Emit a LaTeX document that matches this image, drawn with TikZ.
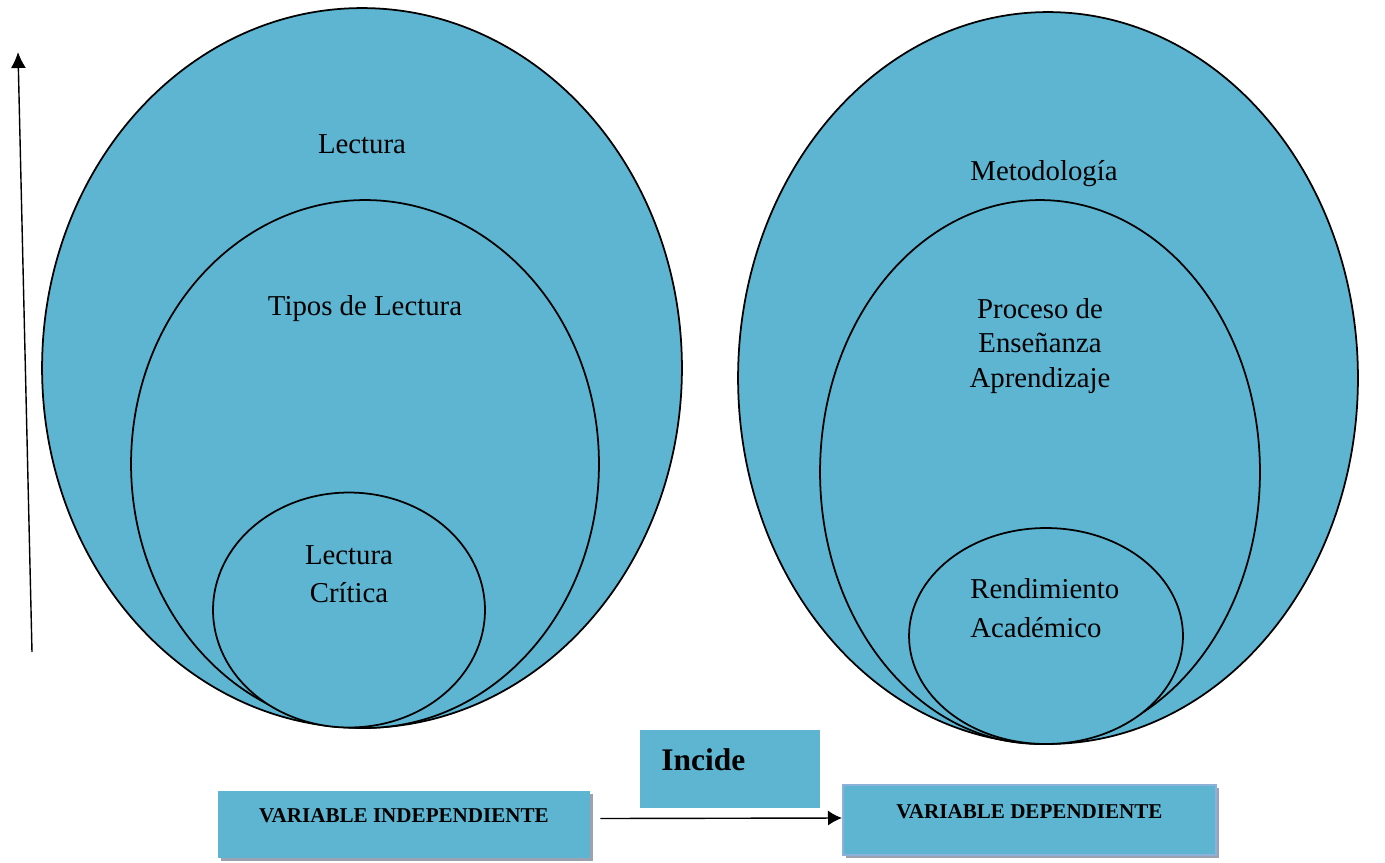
\documentclass[tikz,border=0pt]{standalone}
\usepackage{fontspec}
\setmainfont{Liberation Serif}
\usetikzlibrary{shapes}
\usetikzlibrary{shadows}
\usetikzlibrary{arrows.meta}
\definecolor{azul}{RGB}{93,181,210}
\definecolor{sombra}{RGB}{155,162,176}
\definecolor{borde}{RGB}{140,178,218}

\begin{document}
\begin{tikzpicture}[x=0.02cm,y=-0.02cm,
	elipse/.style={ellipse, draw, fill=azul, line width=1pt, inner sep=0},
	texto/.style={align=center, inner sep=0},
	caja/.style={rectangle, fill=azul, inner sep=0, font=\fontsize{12}{14}\selectfont\bfseries,
		drop shadow={shadow xshift=0.06cm, shadow yshift=-0.06cm, fill=sombra, opacity=1}}]
	\useasboundingbox (0,0) rectangle (1385,862);
	\tikzset{every node/.append style={font=\fontsize{16.4}{21}\selectfont}}
	% variable independiente
	\node[elipse, minimum width=12.8cm, minimum height=14.4cm] (lect) at (362,368) {};
	\node[elipse, minimum width=9.36cm, minimum height=10.56cm] (tipos) at (365,464) {};
	\node[elipse, minimum width=5.44cm, minimum height=4.7cm] (crit) at (349,610) {};
	\node[texto, anchor=base] (tlect) at (362,153) {Lectura};
	\node[texto, anchor=base] (ttipos) at (365,315) {Tipos de Lectura};
	\node[texto, font=\fontsize{16.4}{21.5}\selectfont] (tcrit) at (349,574) {Lectura\\Crítica};
	% variable dependiente
	\node[elipse, minimum width=12.4cm, minimum height=14.64cm] (met) at (1048,378) {};
	\node[elipse, minimum width=8.8cm, minimum height=10.88cm] (proc) at (1040,472) {};
	\node[elipse, minimum width=5.48cm, minimum height=4.32cm] (rend) at (1046,636) {};
	\node[texto, anchor=base] (tmet) at (1044,180) {Metodología};
	\node[texto, font=\fontsize{16.4}{19.8}\selectfont] (tproc) at (1040,346) {Proceso de\\Enseñanza\\Aprendizaje};
	\node[texto, align=left, anchor=west, font=\fontsize{16.4}{22}\selectfont] (trend) at (970,608) {Rendimiento\\Académico};
	% flecha vertical
	\coordinate (abajo) at (32,652);
	\coordinate (arriba) at (18,52);
	\draw[-{Latex[length=0.32cm,width=0.3cm]}, line width=0.8pt] (abajo) -- (arriba);
	% cajas
	\node[caja, minimum width=7.44cm, text height=0.62cm, text depth=0.72cm, anchor=base] (vi) at (404,822) {VARIABLE INDEPENDIENTE};
	\node[caja, draw=borde, line width=1.2pt, minimum width=7.46cm, text height=0.66cm, text depth=0.74cm, anchor=base] (vd) at (1029.5,818) {VARIABLE DEPENDIENTE};
	\node[rectangle, fill=azul, minimum width=3.6cm, minimum height=1.56cm, inner sep=0] (inc) at (730,769) {};
	\node[anchor=base west, inner sep=0, font=\fontsize{17.9}{20}\selectfont\bfseries] (tinc) at (661,770) {Incide};
	\draw[-{Latex[length=0.28cm,width=0.3cm]}, line width=0.8pt] ([xshift=0.2cm,yshift=0.12cm]vi.east) -- ([yshift=0.04cm]vd.west);
\end{tikzpicture}
\end{document}
